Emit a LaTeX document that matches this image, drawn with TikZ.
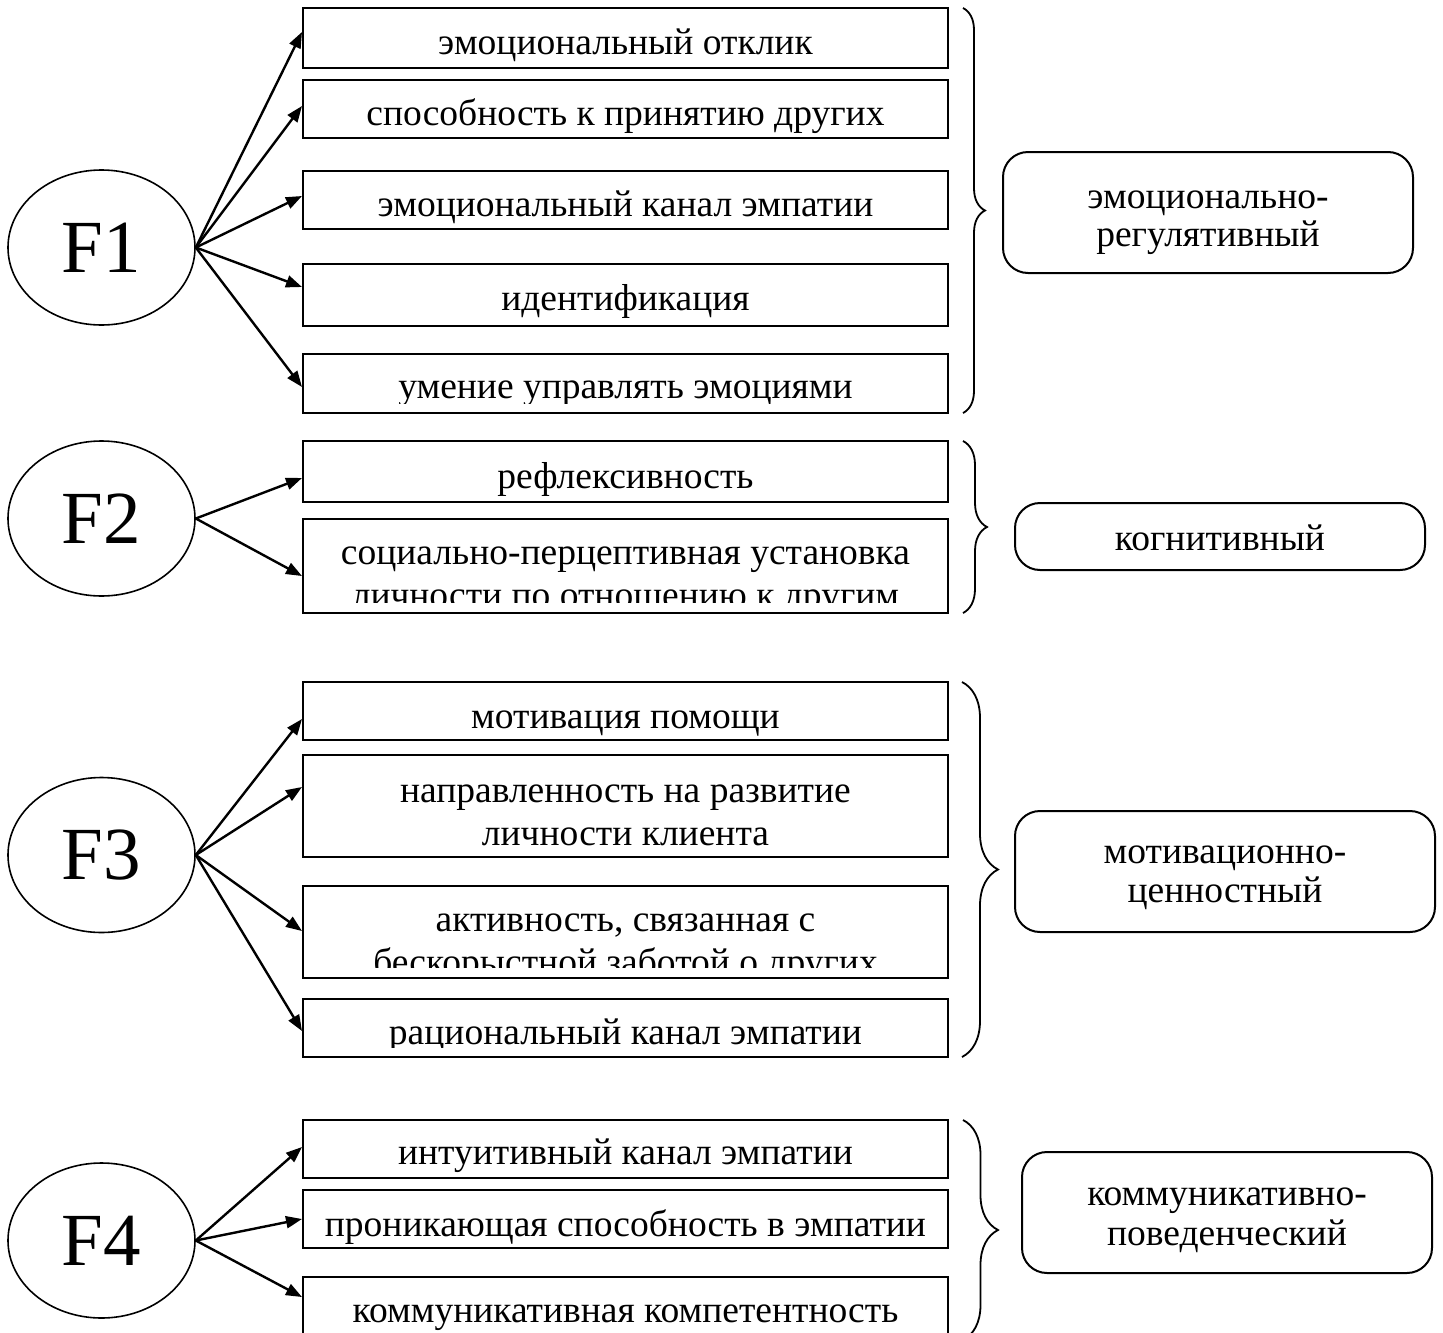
\documentclass[tikz,border=0pt]{standalone}
\usepackage{fontspec}
\setmainfont{Liberation Serif}
\usetikzlibrary{shapes.geometric,arrows.meta,decorations.pathreplacing}
\begin{document}
\begin{tikzpicture}[x=1pt,y=-1pt,
  fac/.style={draw, ellipse, line width=1.6pt, inner sep=0pt, minimum width=187pt, minimum height=155pt, font=\fontsize{75}{80}\selectfont},
  item/.style={draw, rectangle, line width=2pt, inner sep=0pt, minimum width=645pt},
  lbl/.style={anchor=base, inner sep=0pt, font=\fontsize{37.5}{43}\selectfont},
  grp/.style={draw, rectangle, rounded corners=25pt, line width=2pt, inner sep=0pt},
  arr/.style={line width=2.4pt, -{Triangle[length=16pt,width=12pt]}},
  brc/.style={line width=1.8pt, decorate, decoration={brace, amplitude=#1}},
]
\useasboundingbox (0,0) rectangle (1443,1333);
\clip (0,0) rectangle (1443,1333);

% factors
\node[fac] (F1) at (101.5,247.5) {F1};
\node[fac] (F2) at (101.5,518.5) {F2};
\node[fac] (F3) at (101.5,855) {F3};
\node[fac] (F4) at (101.5,1240.5) {F4};

% F1 boxes
\node[item, minimum height=60pt] (b11) at (625.5,38) {};
\node[item, minimum height=58pt] (b12) at (625.5,109) {};
\node[item, minimum height=58pt] (b13) at (625.5,200) {};
\node[item, minimum height=62pt] (b14) at (625.5,295) {};
\node[item, minimum height=59pt] (b15) at (625.5,383.5) {};
\node[lbl] (t11) at (625.5,54) {эмоциональный отклик};
\node[lbl] (t12) at (625.5,125) {способность к принятию других};
\node[lbl] (t13) at (625.5,216) {эмоциональный канал эмпатии};
\node[lbl] (t14) at (625.5,310) {идентификация};
\begin{scope}
\clip (303,354) rectangle (948,403);
\node[lbl] (t15) at (625.5,398) {умение управлять эмоциями};
\end{scope}

% F2 boxes
\node[item, minimum height=61pt] (b21) at (625.5,471.5) {};
\node[item, minimum height=94pt] (b22) at (625.5,566) {};
\node[lbl] (t21) at (625.5,488) {рефлексивность};
\begin{scope}
\clip (303,519) rectangle (948,602);
\node[lbl] (t22a) at (625.5,564) {социально-перцептивная установка};
\node[lbl] (t22b) at (625.5,607) {личности по отношению к другим};
\end{scope}

% F3 boxes
\node[item, minimum height=58pt] (b31) at (625.5,711) {};
\node[item, minimum height=102pt] (b32) at (625.5,806) {};
\node[item, minimum height=92pt] (b33) at (625.5,932) {};
\node[item, minimum height=58pt] (b34) at (625.5,1028) {};
\node[lbl] (t31) at (625.5,728) {мотивация помощи};
\node[lbl] (t32a) at (625.5,802) {направленность на развитие};
\node[lbl] (t32b) at (625.5,845) {личности клиента};
\begin{scope}
\clip (303,886) rectangle (948,967);
\node[lbl] (t33a) at (625.5,931) {активность, связанная с};
\node[lbl] (t33b) at (625.5,974) {бескорыстной заботой о других};
\end{scope}
\begin{scope}
\clip (303,999) rectangle (948,1047);
\node[lbl] (t34) at (625.5,1044) {рациональный канал эмпатии};
\end{scope}

% F4 boxes
\node[item, minimum height=58pt] (b41) at (625.5,1149) {};
\node[item, minimum height=58pt] (b42) at (625.5,1219) {};
\node[item, minimum height=68pt] (b43) at (625.5,1311) {};
\node[lbl] (t41) at (625.5,1164) {интуитивный канал эмпатии};
\node[lbl] (t42) at (625.5,1236) {проникающая способность в эмпатии};
\node[lbl] (t43) at (625.5,1322) {коммуникативная компетентность};

% arrows
\draw[arr] (F1.east) -- ([yshift=-25pt]b11.north west);
\draw[arr] (F1.east) -- ([yshift=-27pt]b12.north west);
\draw[arr] (F1.east) -- ([yshift=-26pt]b13.north west);
\draw[arr] (F1.east) -- ([yshift=-24pt]b14.north west);
\draw[arr] (F1.east) -- ([yshift=-34pt]b15.north west);
\draw[arr] (F2.east) -- ([yshift=-38pt]b21.north west);
\draw[arr] (F2.east) -- ([yshift=-58pt]b22.north west);
\draw[arr] (F3.east) -- ([yshift=-38pt]b31.north west);
\draw[arr] (F3.east) -- ([yshift=-33pt]b32.north west);
\draw[arr] (F3.east) -- ([yshift=-46pt]b33.north west);
\draw[arr] (F3.east) -- ([yshift=-33pt]b34.north west);
\draw[arr] (F4.east) -- ([yshift=-28pt]b41.north west);
\draw[arr] (F4.east) -- ([yshift=-30pt]b42.north west);
\draw[arr] (F4.east) -- ([yshift=-21pt]b43.north west);

% braces
\draw[brc=22pt] (963,8) -- (963,413);
\draw[brc=24pt] (963,441) -- (963,613);
\draw[brc=36pt] (962,682) -- (962,1057);
\draw[brc=35pt] (963,1120) -- (963,1340);

% groups
\node[grp, minimum width=410pt, minimum height=121pt] (g1) at (1208,212.5) {};
\node[lbl] (g1a) at (1208,208) {эмоционально-};
\node[lbl] (g1b) at (1208,246) {регулятивный};
\node[grp, minimum width=410pt, minimum height=67pt] (g2) at (1220,536.5) {};
\node[lbl] (g2a) at (1220,550) {когнитивный};
\node[grp, minimum width=420pt, minimum height=121pt] (g3) at (1225,871.5) {};
\node[lbl] (g3a) at (1225,863) {мотивационно-};
\node[lbl] (g3b) at (1225,902) {ценностный};
\node[grp, minimum width=410pt, minimum height=121pt] (g4) at (1227,1212.5) {};
\node[lbl] (g4a) at (1227,1205) {коммуникативно-};
\node[lbl] (g4b) at (1227,1245) {поведенческий};
\end{tikzpicture}
\end{document}
